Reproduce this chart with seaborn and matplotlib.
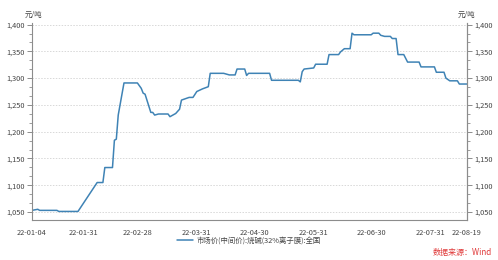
import matplotlib
matplotlib.use("Agg")
import matplotlib.pyplot as plt
import matplotlib.dates as mdates
from matplotlib.ticker import FixedLocator, FuncFormatter, AutoMinorLocator
import seaborn as sns
import pandas as pd

dates = [
    "2022-01-04", "2022-01-07", "2022-01-08", "2022-01-17", "2022-01-18", "2022-01-28",
    "2022-02-07", "2022-02-10", "2022-02-11", "2022-02-15", "2022-02-16", "2022-02-17",
    "2022-02-18", "2022-02-21", "2022-02-28", "2022-03-02", "2022-03-03", "2022-03-04",
    "2022-03-07", "2022-03-08", "2022-03-09", "2022-03-11", "2022-03-16", "2022-03-17",
    "2022-03-20", "2022-03-22", "2022-03-23", "2022-03-27", "2022-03-29", "2022-03-31",
    "2022-04-03", "2022-04-06", "2022-04-07", "2022-04-14", "2022-04-17", "2022-04-20",
    "2022-04-21", "2022-04-25", "2022-04-26", "2022-04-27", "2022-05-08", "2022-05-09",
    "2022-05-23", "2022-05-24", "2022-05-25", "2022-05-26", "2022-05-31", "2022-06-01",
    "2022-06-07", "2022-06-08", "2022-06-13", "2022-06-14", "2022-06-16", "2022-06-19",
    "2022-06-20", "2022-06-21", "2022-06-30", "2022-07-01", "2022-07-04", "2022-07-05",
    "2022-07-07", "2022-07-10", "2022-07-11", "2022-07-13", "2022-07-14", "2022-07-17",
    "2022-07-19", "2022-07-25", "2022-07-26", "2022-08-02", "2022-08-03", "2022-08-07",
    "2022-08-08", "2022-08-10", "2022-08-14", "2022-08-15", "2022-08-19",
]
prices = [
    1053, 1055, 1053, 1053, 1051, 1051,
    1105, 1105, 1133, 1133, 1184, 1186,
    1231, 1291, 1291, 1281, 1272, 1270,
    1236, 1236, 1231, 1233, 1233, 1228,
    1234, 1242, 1259, 1264, 1264, 1275,
    1280, 1284, 1309, 1309, 1306, 1306,
    1317, 1317, 1305, 1309, 1309, 1296,
    1296, 1293, 1312, 1317, 1319, 1326,
    1326, 1344, 1344, 1349, 1355, 1355,
    1384, 1381, 1381, 1384, 1384, 1380,
    1378, 1378, 1374, 1374, 1344, 1344,
    1330, 1330, 1321, 1321, 1311, 1311,
    1300, 1295, 1295, 1289, 1289,
]
x_tick_dates = ["2022-01-04", "2022-01-31", "2022-02-28", "2022-03-31", "2022-04-30",
                "2022-05-31", "2022-06-30", "2022-07-31", "2022-08-19"]
y_ticks = [1050, 1100, 1150, 1200, 1250, 1300, 1350, 1400]
series_name = "市场价(中间价):烧碱(32%离子膜):全国"
unit_label = "元/吨"
source_label = "数据来源：Wind"

sns.set_style("white")
plt.rcParams["font.family"] = ["Noto Sans CJK SC", "DejaVu Sans"]

df = pd.DataFrame({"date": pd.to_datetime(dates), "price": prices})

fig = plt.figure(figsize=(4.98, 2.60), dpi=100)
ax = fig.add_axes([32 / 498, 1 - 220 / 260, (467 - 32) / 498, (220 - 23) / 260])

line_color = "#3f83b5"
sns.lineplot(data=df, x="date", y="price", ax=ax, color=line_color, linewidth=1.1,
             label=series_name)

ax.set_xlim(pd.Timestamp("2022-01-04"), pd.Timestamp("2022-08-19"))
ax.set_ylim(1035, 1403)
ax.set_xlabel("")
ax.set_ylabel("")

fs = 5.3
tick_color = "#444444"
spine_color = "#8c8c8c"

xt = pd.to_datetime(x_tick_dates)
ax.xaxis.set_major_locator(FixedLocator(mdates.date2num(xt)))
ax.set_xticklabels([d.strftime("%y-%m-%d") for d in xt])
minor_x = pd.to_datetime(["2022-01-17", "2022-02-14", "2022-03-15", "2022-04-15",
                          "2022-05-15", "2022-06-15", "2022-07-15", "2022-08-10"])
ax.xaxis.set_minor_locator(FixedLocator(mdates.date2num(minor_x)))

ax.set_yticks(y_ticks)
fmt = FuncFormatter(lambda v, p: f"{int(v):,}")
ax.yaxis.set_major_formatter(fmt)
ax.yaxis.set_minor_locator(AutoMinorLocator(3))

ax.yaxis.grid(True, which="major", linestyle=(0, (1.5, 1.5)), color="#d8d8d8", linewidth=0.7)
ax.set_axisbelow(True)

for s in ["top"]:
    ax.spines[s].set_visible(False)
for s in ["left", "bottom", "right"]:
    ax.spines[s].set_color(spine_color)
    ax.spines[s].set_linewidth(0.8)

ax.tick_params(axis="both", which="major", labelsize=fs, colors=spine_color,
               labelcolor=tick_color, length=3.5, width=0.7, direction="out", pad=2)
ax.tick_params(axis="both", which="minor", colors=spine_color, length=2, width=0.6,
               direction="out")
ax.tick_params(axis="x", which="major", pad=3)

ax2 = ax.twinx()
ax2.set_ylim(ax.get_ylim())
ax2.set_yticks(y_ticks)
ax2.yaxis.set_major_formatter(fmt)
ax2.yaxis.set_minor_locator(AutoMinorLocator(3))
for s in ["top", "left", "bottom"]:
    ax2.spines[s].set_visible(False)
ax2.spines["right"].set_color(spine_color)
ax2.spines["right"].set_linewidth(0.8)
ax2.tick_params(axis="y", which="major", labelsize=fs, colors=spine_color,
                labelcolor=tick_color, length=3.5, width=0.7, direction="out", pad=2)
ax2.tick_params(axis="y", which="minor", colors=spine_color, length=2, width=0.6,
                direction="out")
ax2.grid(False)

leg = ax.legend(loc="center", bbox_to_anchor=(0.5, 1 - 241 / 260),
                bbox_transform=fig.transFigure, frameon=False, fontsize=fs,
                handlelength=2.2, handletextpad=0.5)
for t in leg.get_texts():
    t.set_color(tick_color)

fig.text(25 / 498, 1 - 15 / 260, unit_label, fontsize=fs, color=tick_color,
         ha="left", va="center")
fig.text(458 / 498, 1 - 15 / 260, unit_label, fontsize=fs, color=tick_color,
         ha="left", va="center")
fig.text(492 / 498, 1 - 253 / 260, source_label, fontsize=fs + 0.5, color="#e03a3a",
         ha="right", va="center")

fig.savefig("out.png", dpi=100)
